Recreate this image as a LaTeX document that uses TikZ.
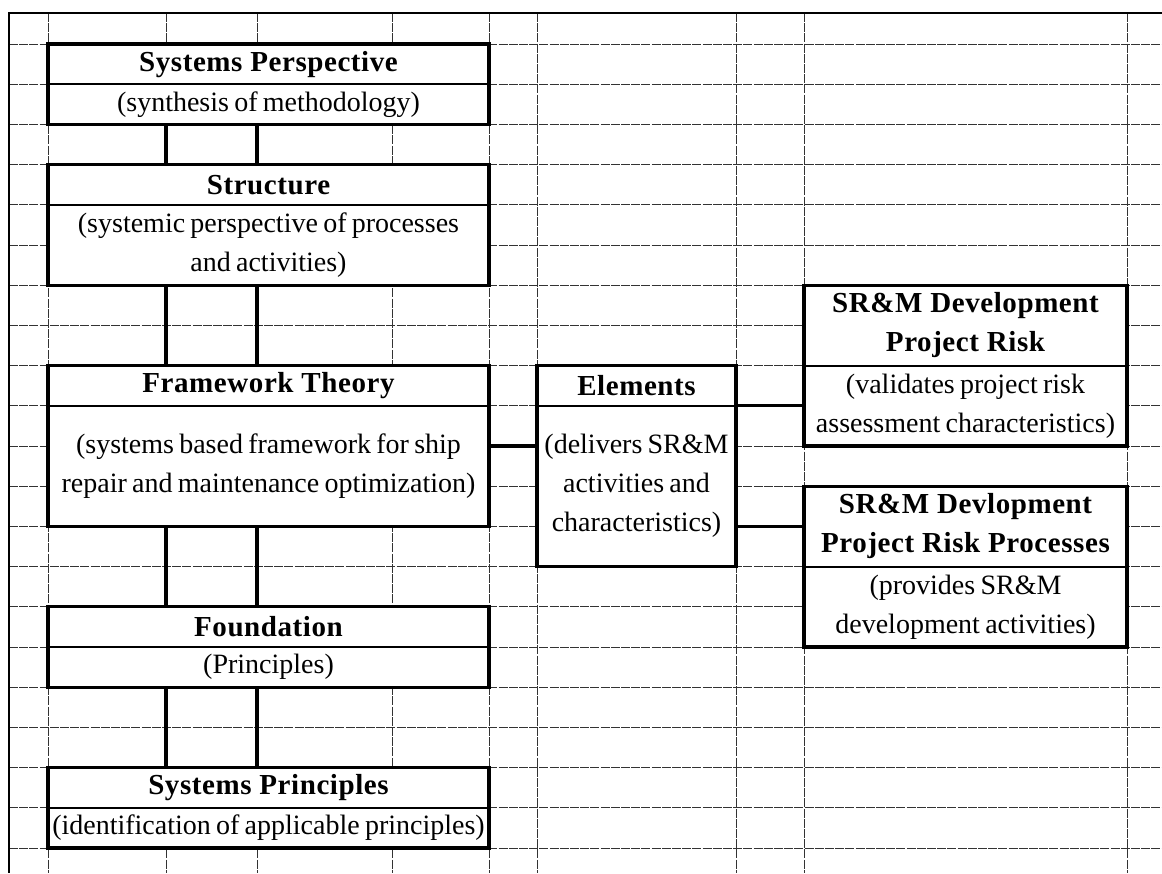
\documentclass[tikz,border=0pt]{standalone}
\usepackage{fontspec}
\setmainfont{Liberation Serif}[WordSpace=0.75]
\newfontface\titleface{Liberation Serif Bold}[LetterSpace=2]
\newcommand{\regfnt}{\fontsize{28}{39}\selectfont}
\newcommand{\ttlfnt}{\titleface\fontsize{29}{39}\selectfont}
\begin{document}
\begin{tikzpicture}[x=1pt,y=-1pt,
  gridline/.style={line width=0.8pt, black!80, dash pattern=on 9pt off 1.2pt},
  border/.style={line width=2pt, black},
  cell/.style={fill=white, inner sep=0pt, outer sep=0pt, align=center},
  ttl/.style={cell, font=\ttlfnt},
  sub/.style={cell, font=\regfnt},
  frame/.style={line width=3.3pt, black, line join=miter},
  divider/.style={line width=2pt, black},
  link/.style={line width=3.3pt, black}]
\useasboundingbox (0,0) rectangle (1162,873);
% spreadsheet grid
\foreach \gx in {48,166,257,392,489,537,736,804,1127}
  \draw[gridline] (\gx,13) -- (\gx,873);
\foreach \k in {0,...,20}
  \draw[gridline] (9,{44+40.2*\k}) -- (1162,{44+40.2*\k});
\draw[border] (9,13) -- (1162,13);
\draw[border] (9,12) -- (9,873);
% row coordinates for connectors
\coordinate (c1) at (166,0);
\coordinate (c2) at (257,0);
\coordinate (r9) at (0,405.8);
\coordinate (r10) at (0,446);
\coordinate (r12) at (0,526.4);
% left column
\node[ttl, minimum width=441pt, minimum height=40.2pt] (spT) at (268.5,64.1) {Systems Perspective};
\node[sub, minimum width=441pt, minimum height=40.2pt] (spS) at (268.5,104.3) {(synthesis of methodology)};
\node[ttl, minimum width=441pt, minimum height=40.2pt] (stT) at (268.5,184.7) {Structure};
\node[sub, minimum width=441pt, minimum height=80.4pt] (stS) at (268.5,245) {(systemic perspective of processes\\and activities)};
\node[ttl, minimum width=441pt, minimum height=40.2pt] (ftT) at (268.5,385.7) {Framework Theory};
\node[sub, minimum width=441pt, minimum height=120.6pt] (ftS) at (268.5,466.1) {(systems based framework for ship\\repair and maintenance optimization)};
\node[ttl, minimum width=441pt, minimum height=40.2pt] (foT) at (268.5,626.9) {Foundation};
\node[sub, minimum width=441pt, minimum height=40.2pt] (foS) at (268.5,667.1) {(Principles)};
\node[ttl, minimum width=441pt, minimum height=40.2pt] (syT) at (268.5,787.7) {Systems Principles};
\node[sub, minimum width=441pt, minimum height=40.2pt] (syS) at (268.5,827.9) {(identification of applicable principles)};
% elements
\node[ttl, minimum width=199pt, minimum height=40.2pt] (elT) at (636.5,385.7) {Elements};
\node[sub, minimum width=199pt, minimum height=160.8pt] (elS) at (636.5,486.2) {(delivers SR\&M\\activities and\\characteristics)};
% right boxes
\node[ttl, minimum width=323pt, minimum height=80.4pt] (r1T) at (965.5,325.4) {SR\&M Development\\Project Risk};
\node[sub, minimum width=323pt, minimum height=80.4pt] (r1S) at (965.5,405.8) {(validates project risk\\assessment characteristics)};
\node[ttl, minimum width=323pt, minimum height=80.4pt] (r2T) at (965.5,526.4) {SR\&M Devlopment\\Project Risk Processes};
\node[sub, minimum width=323pt, minimum height=80.4pt] (r2S) at (965.5,606.8) {(provides SR\&M\\development activities)};
% frames and dividers
\foreach \a/\b in {spT/spS,stT/stS,ftT/ftS,foT/foS,syT/syS,elT/elS,r1T/r1S,r2T/r2S}{
  \draw[divider] (\a.south west) -- (\a.south east);
  \draw[frame] (\a.north west) rectangle (\b.south east);
}
% vertical connectors
\foreach \u/\l in {spS/stT,stS/ftT,ftS/foT,foS/syT}{
  \draw[link] (\u.south -| c1) -- (\l.north -| c1);
  \draw[link] (\u.south -| c2) -- (\l.north -| c2);
}
% horizontal connectors
\draw[link] (ftS.east |- r10) -- (elS.west |- r10);
\draw[link] (elS.east |- r9) -- (r1S.west |- r9);
\draw[link] (elS.east |- r12) -- (r2T.west |- r12);
\end{tikzpicture}
\end{document}
